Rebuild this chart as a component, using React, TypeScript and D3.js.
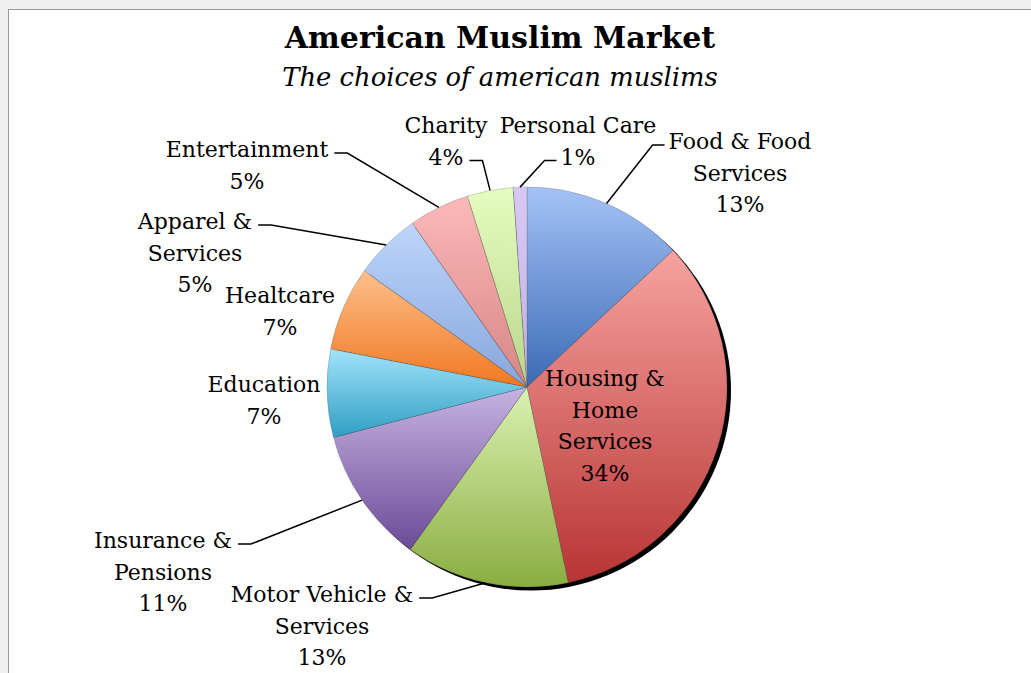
import { useEffect, useRef } from "react";
import * as d3 from "d3";

const W = 1031;
const H = 673;
const FONT = "'DejaVu Serif', serif";

const categories = [
  "Food & Food Services",
  "Housing & Home Services",
  "Motor Vehicle & Services",
  "Insurance & Pensions",
  "Education",
  "Healthcare",
  "Apparel & Services",
  "Entertainment",
  "Charity",
  "Personal Care",
];
const values = [13.0, 33.6, 13.2, 11.0, 7.1, 6.8, 5.4, 4.9, 3.7, 1.1];
const labelLines = [
  ["Food & Food", "Services"],
  ["Housing &", "Home", "Services"],
  ["Motor Vehicle &", "Services"],
  ["Insurance &", "Pensions"],
  ["Education"],
  ["Healtcare"],
  ["Apparel &", "Services"],
  ["Entertainment"],
  ["Charity"],
  ["Personal Care"],
];

// gradient top -> bottom for each slice
const topColors = ["#a5c2f5", "#f6a3a0", "#daf2b2", "#c6b4e2", "#a2e3fb", "#fdbf8c", "#bed5fc", "#fcb9b9", "#e5fdbf", "#d8c9f4"];
const botColors = ["#3a6bb6", "#b83434", "#8aad42", "#6c4a98", "#2f9ec3", "#f07820", "#86a6dc", "#d68684", "#b9d58c", "#c2b1e3"];

// label placement relative to pie centre (x = text centre, y = first baseline)
type Leader = { line: number; side: "left" | "right" } | null;
const labelPos: { x: number; y: number; leader: Leader }[] = [
  { x: 213, y: -238, leader: { line: 0, side: "left" } },
  { x: 78, y: -1, leader: null },
  { x: -205, y: 215, leader: { line: 0, side: "right" } },
  { x: -364, y: 161, leader: { line: 0, side: "right" } },
  { x: -263, y: 5, leader: null },
  { x: -247, y: -84, leader: null },
  { x: -332, y: -158, leader: { line: 0, side: "right" } },
  { x: -280, y: -230, leader: { line: 0, side: "right" } },
  { x: -81, y: -254, leader: { line: 1, side: "right" } },
  { x: 51, y: -254, leader: { line: 1, side: "left" } },
];

function drawChart(svgEl: SVGSVGElement) {
  const svg = d3.select(svgEl);
  svg.selectAll("*").remove();

  const cx = 527;
  const cy = 387;
  const r = 200;
  const lineH = 31.5;

  // page frame
  svg.append("rect").attr("width", W).attr("height", H).attr("fill", "#f0f0f0");
  svg.append("rect")
    .attr("x", 8.5).attr("y", 9.5)
    .attr("width", W + 20).attr("height", H + 20)
    .attr("fill", "#ffffff")
    .attr("stroke", "#9a9a9a")
    .attr("stroke-width", 1);

  const defs = svg.append("defs");
  const blur = defs.append("filter").attr("id", "pie-shadow")
    .attr("x", "-10%").attr("y", "-10%").attr("width", "120%").attr("height", "120%");
  blur.append("feGaussianBlur").attr("stdDeviation", 0.4);

  values.forEach((_, i) => {
    const g = defs.append("linearGradient")
      .attr("id", `slice-grad-${i}`)
      .attr("x1", 0).attr("y1", 0).attr("x2", 0).attr("y2", 1);
    g.append("stop").attr("offset", "0%").attr("stop-color", topColors[i]);
    g.append("stop").attr("offset", "100%").attr("stop-color", botColors[i]);
  });

  // title
  svg.append("text")
    .attr("x", 500).attr("y", 48)
    .attr("text-anchor", "middle")
    .style("font-family", FONT)
    .style("font-weight", "bold")
    .style("font-size", "30px")
    .attr("fill", "#000")
    .text("American Muslim Market");
  svg.append("text")
    .attr("x", 500).attr("y", 86)
    .attr("text-anchor", "middle")
    .style("font-family", FONT)
    .style("font-style", "italic")
    .style("font-size", "25.8px")
    .attr("fill", "#000")
    .text("The choices of american muslims");

  const pie = d3.pie<number>().sort(null).value(d => d);
  const arcs = pie(values);
  const arc = d3.arc<d3.PieArcDatum<number>>().innerRadius(0).outerRadius(r);

  const g = svg.append("g").attr("transform", `translate(${cx},${cy})`);

  // shadow
  g.append("circle")
    .attr("cx", 4).attr("cy", 3.5).attr("r", r)
    .attr("fill", "#000")
    .attr("filter", "url(#pie-shadow)");

  g.selectAll("path.slice")
    .data(arcs)
    .join("path")
    .attr("class", "slice")
    .attr("d", d => arc(d) as string)
    .attr("fill", (_, i) => `url(#slice-grad-${i})`)
    .attr("stroke", "rgba(90,90,90,0.45)")
    .attr("stroke-width", 0.6);

  // labels
  arcs.forEach((a, i) => {
    const pos = labelPos[i];
    const pct = d3.format(".0%")(a.value / d3.sum(values));
    const lines = [...labelLines[i], pct];
    const texts = lines.map((txt, k) =>
      g.append("text")
        .attr("x", pos.x)
        .attr("y", pos.y + k * lineH)
        .attr("text-anchor", "middle")
        .style("font-family", FONT)
        .style("font-size", "22px")
        .attr("fill", "#000")
        .text(txt)
    );

    if (pos.leader) {
      const node = texts[pos.leader.line].node() as SVGTextElement;
      const w = node.getComputedTextLength();
      const ly = pos.y + pos.leader.line * lineH - 4;
      const sx = pos.leader.side === "left" ? pos.x - w / 2 - 4 : pos.x + w / 2 + 6;
      const kx = pos.leader.side === "left" ? sx - 12 : sx + 13;
      const mid = (a.startAngle + a.endAngle) / 2;
      const ex = Math.sin(mid) * r;
      const ey = -Math.cos(mid) * r;
      g.append("path")
        .attr("d", d3.line()([[sx, ly], [kx, ly], [ex, ey]]) as string)
        .attr("fill", "none")
        .attr("stroke", "#000")
        .attr("stroke-width", 1.5);
    }
  });
}

export default function App() {
  const svgRef = useRef<SVGSVGElement>(null);

  useEffect(() => {
    if (svgRef.current) drawChart(svgRef.current);
  }, []);

  return (
    <svg
      ref={svgRef}
      width={W}
      height={H}
      style={{ position: "absolute", left: 0, top: 0, display: "block" }}
    />
  );
}
